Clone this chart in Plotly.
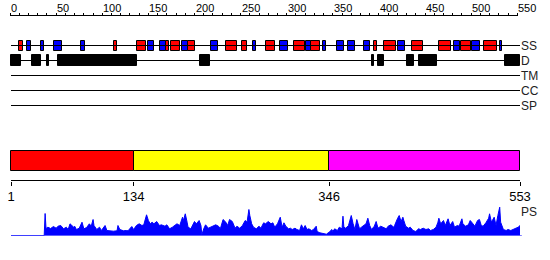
import plotly.graph_objects as go

# ---------------- data ----------------
seq_len = 553
ruler_ticks = list(range(0, 551, 10))
ruler_labels = list(range(0, 551, 50))

helix_start = [10, 113, 138, 169, 174, 193, 234, 252, 278, 308, 326, 395, 406, 436, 465, 489, 514]
helix_end   = [14, 116, 147, 172, 184, 200, 246, 257, 287, 320, 336, 398, 418, 448, 478, 500, 528]

strand_start = [18, 34, 48, 77, 150, 163, 186, 218, 263, 293, 321, 339, 355, 367, 384, 421, 481, 501, 531]
strand_end   = [23, 37, 56, 81, 156, 169, 193, 226, 267, 301, 326, 343, 362, 374, 390, 428, 488, 510, 533]

disorder_start = [1, 24, 40, 52, 206, 392, 399, 430, 443, 537]
disorder_end   = [12, 33, 42, 138, 217, 395, 405, 438, 463, 553]

domain_start = [1, 134, 346]
domain_end   = [134, 346, 553]
domain_colors = ["#FF0000", "#FFFF00", "#FF00FF"]
domain_ticks = [1, 134, 346, 553]

row_names = ["SS", "D", "TM", "CC", "SP"]

ps_residue = [1, 37, 38, 39, 41, 44, 47, 50, 52, 55, 58, 61, 63, 65, 67, 69, 70, 72, 75, 78, 80, 83,
              86, 88, 90, 91, 94, 97, 99, 103, 105, 108, 112, 116, 117, 119, 123, 126, 128, 130, 132,
              134, 137, 140, 143, 145, 148, 150, 152, 154, 156, 159, 162, 164, 166, 168, 170, 173,
              176, 179, 181, 184, 187, 188, 190, 192, 193, 196, 198, 200, 202, 205, 207, 208, 210,
              212, 215, 218, 220, 223, 226, 228, 231, 234, 236, 238, 241, 244, 246, 249, 252, 255,
              257, 259, 260, 262, 264, 267, 270, 272, 275, 277, 280, 283, 285, 287, 290, 293, 295,
              297, 299, 302, 304, 306, 309, 311, 314, 316, 318, 320, 322, 324, 327, 329, 332, 333,
              336, 340, 343, 346, 349, 350, 352, 355, 357, 360, 361, 362, 364, 367, 370, 372, 374,
              376, 378, 379, 381, 384, 386, 388, 390, 392, 395, 397, 399, 402, 405, 408, 410, 413,
              416, 417, 420, 422, 424, 426, 427, 429, 432, 434, 437, 440, 443, 445, 448, 451, 454,
              456, 459, 462, 464, 465, 467, 470, 472, 475, 477, 480, 482, 485, 487, 490, 491, 494,
              497, 499, 502, 504, 507, 509, 511, 513, 516, 519, 520, 522, 525, 527, 529, 531, 532,
              535, 538, 540, 543, 546, 549, 551, 553]
ps_score = [0, 0, 22, 7, 8.3, 7, 9, 7.3, 9.3, 10, 6.7, 8.3, 6, 11.7, 10, 8.3, 9.3, 6, 7.3, 13.3, 6.7, 8,
            11.7, 9.3, 16, 10, 6, 8.3, 5, 10, 5, 4.7, 4.3, 4.7, 10, 6, 4.7, 5, 4.7, 7, 9,
            6, 10, 11.7, 10, 10.7, 20.7, 15, 11.7, 13.3, 11.7, 14, 10, 10.7, 10, 9.3, 10.7, 6.7,
            8.3, 10, 11.7, 10, 18.3, 15, 21.7, 13.3, 8.3, 6.7, 10, 14, 11.7, 15, 10, 0.7, 6.7,
            10.7, 7.3, 8.7, 10, 10.7, 9.3, 6.7, 16, 13.3, 10, 16, 14, 7.3, 9.3, 7.3, 10, 15,
            13.3, 26, 20, 11.7, 8.3, 6.7, 9.3, 7.3, 12.7, 11.7, 14, 11.7, 12.7, 8.3, 11.7, 18.3, 8.3,
            12.7, 9.3, 6.7, 7.3, 6, 7.3, 6, 5, 10.7, 6.7, 10, 6, 6.7, 5, 6, 9.3, 4,
            2.7, 2, 1.3, 3.3, 6, 4, 6.7, 5, 8.3, 6.7, 19.3, 8.3, 7.3, 10, 20, 11.7, 6,
            16, 9.3, 6.7, 8.3, 10.7, 11.7, 17.3, 10, 6, 9.3, 14, 7.3, 9.3, 8.3, 6.7, 9.3, 10.7,
            8.3, 10, 16.7, 20, 14, 18.3, 15, 9.3, 7.3, 8.3, 5, 4, 6.7, 6, 7.3, 6, 6.7,
            5, 6, 8.3, 13.3, 17.3, 11.7, 15, 10, 16.7, 10, 14, 8.3, 10, 9.3, 16.7, 11.7, 9.3,
            10.7, 15, 11.7, 9.3, 15, 16, 10, 9.3, 12.7, 17.3, 21.7, 13.3, 18.3, 10, 20, 28.3, 13.3,
            6, 5, 6, 5, 6, 7.3, 8.3, 10]

# ---------------- layout constants ----------------
W, H = 550, 260
px_first, px_last = 11.0, 520.0           # pixel x of residue 1 and residue 553
scale = (px_last - px_first) / (seq_len - 1)
x_range = [1 - px_first / scale, 1 + (W - px_first) / scale]

row_y = {"SS": 45.5, "D": 60.5, "TM": 75.5, "CC": 90.5, "SP": 105.5}
ruler_y = 15.5
domain_y = 160.5
domain_axis_y = 180.5
ps_base, ps_top = 235.5, 205.5
ps_max = 30

FONT = "Liberation Sans, Arial, sans-serif"

fig = go.Figure()

# row lines
for name in row_names:
    fig.add_trace(go.Scatter(x=[1, seq_len], y=[row_y[name]] * 2, mode="lines",
                             line=dict(color="black", width=1), hoverinfo="skip"))


def add_boxes(starts, ends, y, color, thick):
    fig.add_trace(go.Bar(orientation="h", base=starts,
                         x=[e - s for s, e in zip(starts, ends)],
                         y=[y] * len(starts), width=thick,
                         marker=dict(color=color, line=dict(color="black", width=1))))


add_boxes(disorder_start, disorder_end, row_y["D"], "black", 10.5)
add_boxes(strand_start, strand_end, row_y["SS"], "#0000FF", 10)
add_boxes(helix_start, helix_end, row_y["SS"], "#FF0000", 10)

# domains
for s, e, c in zip(domain_start, domain_end, domain_colors):
    add_boxes([s], [e], domain_y, c, 20)

# ruler line (ticks come from xaxis2)
fig.add_trace(go.Scatter(x=[ruler_ticks[0], ruler_ticks[-1]], y=[ruler_y] * 2, xaxis="x2",
                         mode="lines", line=dict(color="black", width=1), hoverinfo="skip"))
# domain axis line (ticks from xaxis3)
fig.add_trace(go.Scatter(x=[domain_ticks[0], domain_ticks[-1]], y=[domain_axis_y] * 2, xaxis="x3",
                         mode="lines", line=dict(color="black", width=1), hoverinfo="skip"))

# PS profile
fig.add_trace(go.Scatter(x=[1, seq_len + 2], y=[0, 0], xaxis="x", yaxis="y2", mode="lines",
                         line=dict(color="#0000FF", width=1), hoverinfo="skip"))
fig.add_trace(go.Scatter(x=ps_residue, y=ps_score, xaxis="x", yaxis="y2", mode="lines",
                         fill="tozeroy", fillcolor="#0000FF",
                         line=dict(color="#0000FF", width=1), hoverinfo="skip"))

annotations = []
for v in ruler_labels:
    annotations.append(dict(x=v, y=7.5, xref="x", yref="y", text=str(v), showarrow=False,
                            xanchor="left", yanchor="middle", borderpad=0,
                            font=dict(family=FONT, size=11, color="black")))
for name in row_names:
    annotations.append(dict(x=seq_len + 0.5, y=row_y[name], xref="x", yref="y", text=name,
                            showarrow=False, xanchor="left", yanchor="middle", borderpad=0,
                            font=dict(family=FONT, size=12, color="#222222")))
annotations.append(dict(x=seq_len + 0.5, y=211.5, xref="x", yref="y", text="PS",
                        showarrow=False, xanchor="left", yanchor="middle", borderpad=0,
                        font=dict(family=FONT, size=12, color="#222222")))

fig.update_layout(
    width=W, height=H, margin=dict(l=0, r=0, t=0, b=0),
    paper_bgcolor="white", plot_bgcolor="white", showlegend=False,
    barmode="overlay", bargap=0,
    xaxis=dict(range=x_range, visible=False, fixedrange=True),
    yaxis=dict(range=[H, 0], visible=False, fixedrange=True),
    xaxis2=dict(range=x_range, overlaying="x", anchor="free", position=(H - ruler_y) / H,
                side="top", tickmode="array", tickvals=ruler_ticks, ticks="outside", ticklen=3,
                tickcolor="black", tickwidth=1, showticklabels=False, showgrid=False,
                zeroline=False, showline=False),
    xaxis3=dict(range=x_range, overlaying="x", anchor="free", position=(H - domain_axis_y) / H,
                side="bottom", tickmode="array", tickvals=domain_ticks,
                ticktext=[str(t) for t in domain_ticks], ticks="outside", ticklen=4,
                tickcolor="black", tickwidth=1, showgrid=False, zeroline=False, showline=False,
                tickfont=dict(family=FONT, size=13, color="black")),
    yaxis2=dict(domain=[(H - ps_base) / H, (H - ps_top) / H], range=[0, ps_max],
                anchor="x", visible=False, fixedrange=True),
    annotations=annotations,
)

fig.write_html("out.html")
